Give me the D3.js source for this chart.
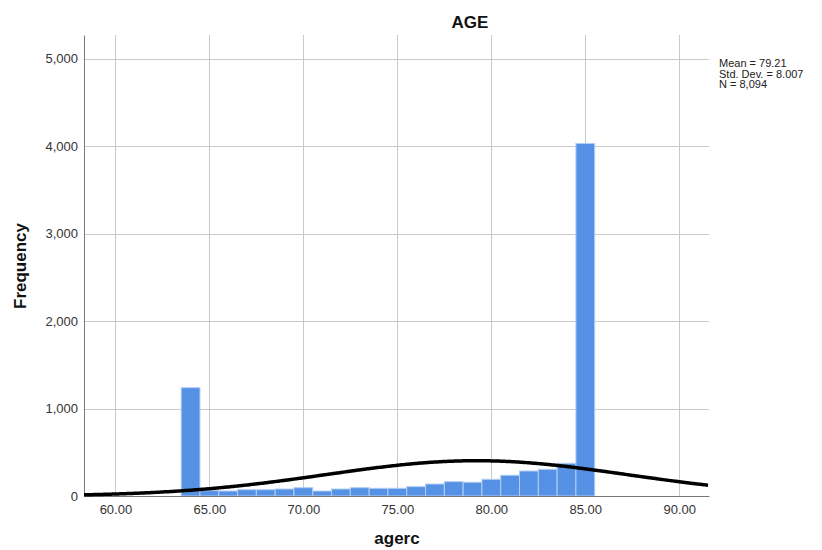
<!DOCTYPE html>
<html>
<head>
<meta charset="utf-8">
<script src="https://cdn.jsdelivr.net/npm/d3@7"></script>
<style>
  html, body { margin: 0; padding: 0; background: #fff; }
  svg { display: block; font-family: "Liberation Sans", Arial, Helvetica, sans-serif; }
</style>
</head>
<body>
<svg id="chart" width="822" height="550"></svg>
<script>
// Histogram of agerc (bin width 1, bins centred on whole years)
const binCenters = [64, 65, 66, 67, 68, 69, 70, 71, 72, 73, 74, 75, 76, 77, 78, 79, 80, 81, 82, 83, 84, 85];
const counts     = [1238, 61, 57, 72, 72, 80, 95, 57, 80, 95, 88, 88, 107, 137, 164, 157, 191, 237, 286, 305, 374, 4030];
const binWidth = 1;

// Summary statistics for the fitted normal curve
const stats = { mean: 79.21, sd: 8.007, n: 8094 };
const statLines = ["Mean = 79.21", "Std. Dev. = 8.007", "N = 8,094"];

const xTicks = [60, 65, 70, 75, 80, 85, 90];
const yTicks = [0, 1000, 2000, 3000, 4000, 5000];

const svg = d3.select("#chart");
const plot = { left: 84, right: 709, top: 35, bottom: 496 };

const x = d3.scaleLinear().domain([58.33, 91.58]).range([plot.left, plot.right]);
const y = d3.scaleLinear().domain([0, 5269]).range([plot.bottom, plot.top]);

// Grid lines
const grid = svg.append("g").attr("stroke", "#cacaca").attr("stroke-width", 1);
grid.selectAll("line.v").data(xTicks).join("line")
  .attr("x1", d => Math.round(x(d)) + 0.5).attr("x2", d => Math.round(x(d)) + 0.5)
  .attr("y1", plot.top).attr("y2", plot.bottom);
grid.selectAll("line.h").data(yTicks.filter(d => d > 0)).join("line")
  .attr("x1", plot.left).attr("x2", plot.right)
  .attr("y1", d => Math.round(y(d)) + 0.5).attr("y2", d => Math.round(y(d)) + 0.5);

// Bars
svg.append("g").selectAll("rect").data(binCenters).join("rect")
  .attr("x", (d) => x(d - binWidth / 2))
  .attr("width", (d) => x(d + binWidth / 2) - x(d - binWidth / 2))
  .attr("y", (d, i) => y(counts[i]))
  .attr("height", (d, i) => y(0) - y(counts[i]))
  .attr("fill", "#5591e4")
  .attr("stroke", "#b3cff4")
  .attr("stroke-width", 1);

// Axes (labels only, no tick marks)
const xAxis = d3.axisBottom(x).tickValues(xTicks).tickFormat(d3.format(".2f")).tickSize(0).tickPadding(9);
const gx = svg.append("g").attr("transform", `translate(0,${plot.bottom})`).call(xAxis);
gx.select(".domain").attr("stroke", "#777");
gx.selectAll("text").attr("font-size", 13).attr("fill", "#333")
  .attr("font-family", "'Liberation Sans', Arial, sans-serif");

const yAxis = d3.axisLeft(y).tickValues(yTicks).tickFormat(d3.format(",")).tickSize(0).tickPadding(6);
const gy = svg.append("g").attr("transform", `translate(${plot.left},0)`).call(yAxis);
gy.select(".domain").attr("stroke", "#777");
gy.selectAll("text").attr("font-size", 13).attr("fill", "#333")
  .attr("font-family", "'Liberation Sans', Arial, sans-serif");

// Normal curve scaled to counts
const curveX = d3.range(x.domain()[0], x.domain()[1] + 0.001, 0.1);
const normal = v => stats.n * binWidth / (stats.sd * Math.sqrt(2 * Math.PI)) *
  Math.exp(-0.5 * Math.pow((v - stats.mean) / stats.sd, 2));
svg.append("path")
  .datum(curveX)
  .attr("fill", "none")
  .attr("stroke", "#000")
  .attr("stroke-width", 3.5)
  .attr("d", d3.line().x(d => x(d)).y(d => y(normal(d))).curve(d3.curveBasis));

// Titles
svg.append("text").attr("x", 470).attr("y", 28).attr("text-anchor", "middle")
  .attr("font-size", 17).attr("font-weight", "bold").attr("fill", "#111").text("AGE");
svg.append("text").attr("x", 397).attr("y", 544).attr("text-anchor", "middle")
  .attr("font-size", 17).attr("font-weight", "bold").attr("fill", "#111").text("agerc");
svg.append("text").attr("transform", "translate(26,266) rotate(-90)").attr("text-anchor", "middle")
  .attr("font-size", 17).attr("font-weight", "bold").attr("fill", "#111").text("Frequency");

// Statistics block
svg.append("g").selectAll("text").data(statLines).join("text")
  .attr("x", 719).attr("y", (d, i) => 67 + i * 10.5)
  .attr("font-size", 11).attr("fill", "#222").text(d => d);
</script>
</body>
</html>
